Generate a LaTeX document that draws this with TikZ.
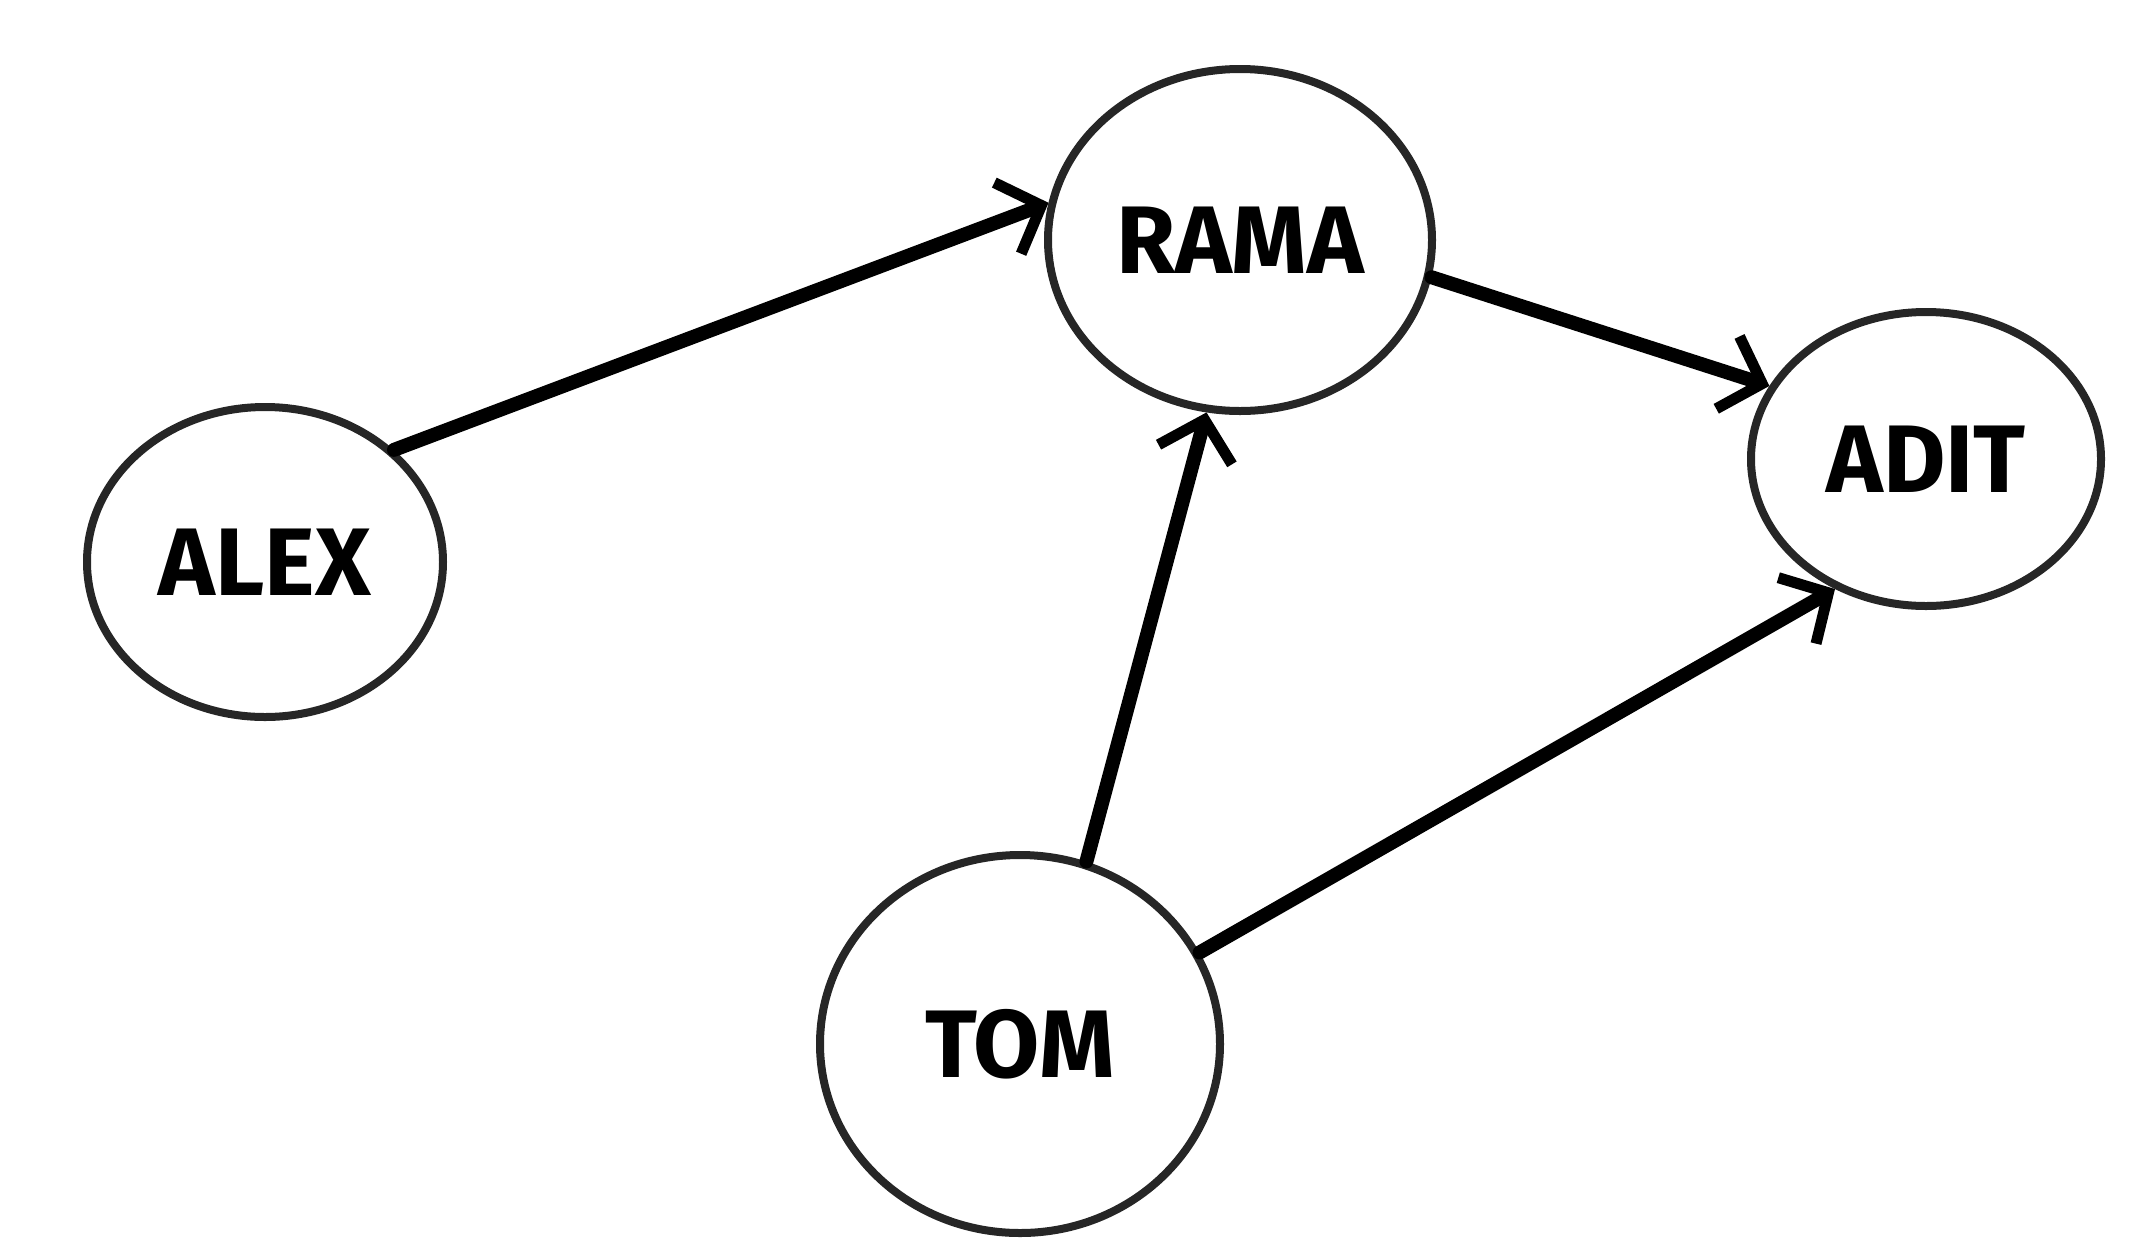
\documentclass[tikz,border=0pt]{standalone}
\usepackage{fontspec}
\setmainfont{Fira Sans}
\usetikzlibrary{shapes.geometric,arrows.meta}
\begin{document}
\begin{tikzpicture}[x=1pt,y=-1pt,
  person/.style={ellipse,draw=black!85,line width=8pt,inner sep=0pt,
    font=\fontsize{96}{96}\selectfont\bfseries},
  edge/.style={line width=14pt,line cap=round,
    -{Straight Barb[length=36pt,width=76pt,line width=11pt]}}]
\useasboundingbox (0,0) rectangle (2149,1251);
\node[person,minimum width=356pt,minimum height=310pt] (alex) at (265,562) {ALEX};
\node[person,minimum width=384pt,minimum height=342pt] (rama) at (1240,240) {RAMA};
\node[person,minimum width=350pt,minimum height=294pt] (adit) at (1926,459) {ADIT};
\node[person,minimum width=400pt,minimum height=378pt] (tom) at (1020,1044) {TOM};
\draw[edge] (alex.41) -- (rama.169);
\draw[edge] (rama.-11) -- (adit.155);
\draw[edge] (tom.70) -- (rama.-101);
\draw[edge] (tom.27) -- (adit.-125);
\end{tikzpicture}
\end{document}
